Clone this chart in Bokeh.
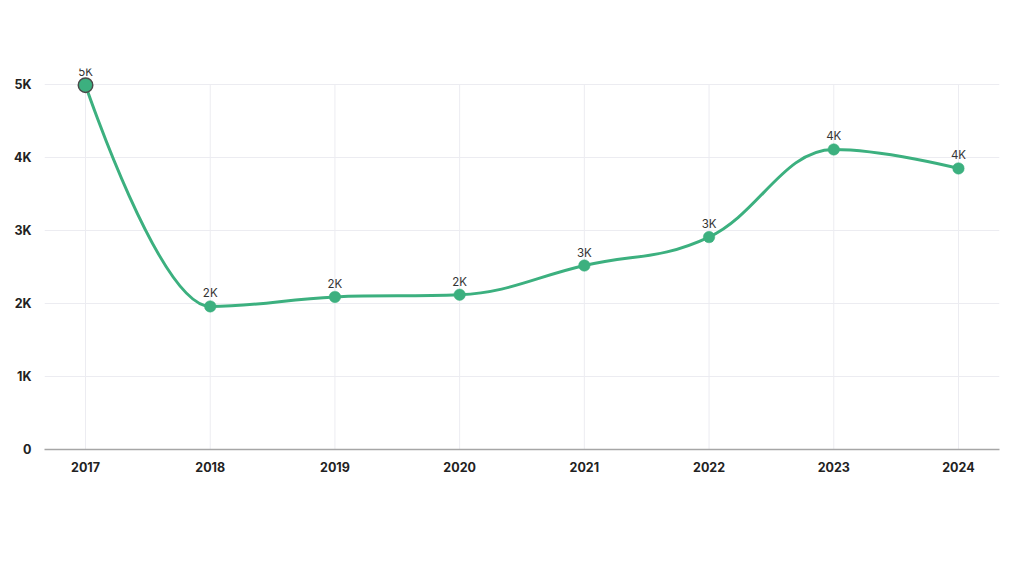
from bokeh.plotting import figure
from bokeh.models import FixedTicker, Range1d, ColumnDataSource
from bokeh.core.properties import value
from bokeh.embed import file_html
from bokeh.resources import INLINE

years = [2017, 2018, 2019, 2020, 2021, 2022, 2023, 2024]
amounts = [4990, 1960, 2090, 2120, 2520, 2910, 4110, 3850]
y_ticks = [0, 1000, 2000, 3000, 4000, 5000]
y_tick_labels = ["0", "1K", "2K", "3K", "4K", "5K"]
point_labels = [f"{round(v / 1000)}K" for v in amounts]

GREEN = "#3cb07f"
FONT = "Inter"


def spline_controls(xs, ys, smoothing=1.5):
    n = len(xs)
    lcx, lcy = list(xs), list(ys)
    rcx, rcy = list(xs), list(ys)
    den = smoothing + 1
    for i in range(1, n - 1):
        lx, ly = xs[i - 1], ys[i - 1]
        px, py = xs[i], ys[i]
        nx, ny = xs[i + 1], ys[i + 1]
        a_x = (smoothing * px + lx) / den
        a_y = (smoothing * py + ly) / den
        b_x = (smoothing * px + nx) / den
        b_y = (smoothing * py + ny) / den
        corr = ((b_y - a_y) * (b_x - px)) / (b_x - a_x) + py - b_y
        a_y += corr
        b_y += corr
        if a_y > ly and a_y > py:
            a_y = max(ly, py)
            b_y = 2 * py - a_y
        elif a_y < ly and a_y < py:
            a_y = min(ly, py)
            b_y = 2 * py - a_y
        if b_y > ny and b_y > py:
            b_y = max(ny, py)
            a_y = 2 * py - b_y
        elif b_y < ny and b_y < py:
            b_y = min(ny, py)
            a_y = 2 * py - b_y
        lcx[i], lcy[i], rcx[i], rcy[i] = a_x, a_y, b_x, b_y
    return lcx, lcy, rcx, rcy


lcx, lcy, rcx, rcy = spline_controls(years, amounts)
seg = ColumnDataSource(dict(
    x0=years[:-1], y0=amounts[:-1], x1=years[1:], y1=amounts[1:],
    cx0=rcx[:-1], cy0=rcy[:-1], cx1=lcx[1:], cy1=lcy[1:],
))

p = figure(width=1016, height=568, output_backend="svg", toolbar_location=None,
           x_range=Range1d(2016.671, 2024.329), y_range=Range1d(0, 5219),
           min_border_left=44, min_border_right=17, min_border_top=68,
           min_border_bottom=119)
p.outline_line_color = None
p.background_fill_color = "white"
p.border_fill_color = "white"

# grid
p.xgrid.visible = False
p.ygrid.ticker = FixedTicker(ticks=y_ticks)
p.ygrid.grid_line_color = "#ececf1"
p.ygrid.grid_line_width = 1
p.segment(x0=years, y0=[y_ticks[0]] * len(years), x1=years, y1=[y_ticks[-1]] * len(years),
          line_color="#ececf1", line_width=1)

# axes
p.yaxis.ticker = FixedTicker(ticks=y_ticks)
p.yaxis.major_label_overrides = {t: l for t, l in zip(y_ticks, y_tick_labels)}
p.yaxis.axis_line_color = None
p.yaxis.major_tick_line_color = None
p.yaxis.minor_tick_line_color = None
p.yaxis.major_label_standoff = 7
p.yaxis.major_label_text_font = FONT
p.yaxis.major_label_text_font_style = "bold"
p.yaxis.major_label_text_font_size = "12.5px"
p.yaxis.major_label_text_color = "#222222"

p.xaxis.ticker = FixedTicker(ticks=years)
p.xaxis.major_label_overrides = {y: str(y) for y in years}
p.xaxis.axis_line_color = "#a6a6a6"
p.xaxis.axis_line_width = 1.5
p.xaxis.major_tick_line_color = None
p.xaxis.minor_tick_line_color = None
p.xaxis.major_label_standoff = 6
p.xaxis.major_label_text_font = FONT
p.xaxis.major_label_text_font_style = "bold"
p.xaxis.major_label_text_font_size = "12.5px"
p.xaxis.major_label_text_color = "#222222"

# line
p.bezier(x0="x0", y0="y0", x1="x1", y1="y1", cx0="cx0", cy0="cy0", cx1="cx1", cy1="cy1",
         source=seg, line_color=GREEN, line_width=3)

# points
sizes = [14.5] + [11.5] * (len(years) - 1)
outline = ["#4a4a4a"] + [GREEN] * (len(years) - 1)
widths = [1.5] + [0.5] * (len(years) - 1)
p.scatter(x=years, y=amounts, size=sizes, fill_color=GREEN, line_color=outline,
          line_width=widths)

# data labels
p.text(x=years, y=amounts, text=point_labels, text_align="center",
       text_baseline="alphabetic", y_offset=-13, text_font=value(FONT),
       text_font_size="11.5px", text_color="#333333")

open("out.html", "w").write(file_html(p, INLINE))
